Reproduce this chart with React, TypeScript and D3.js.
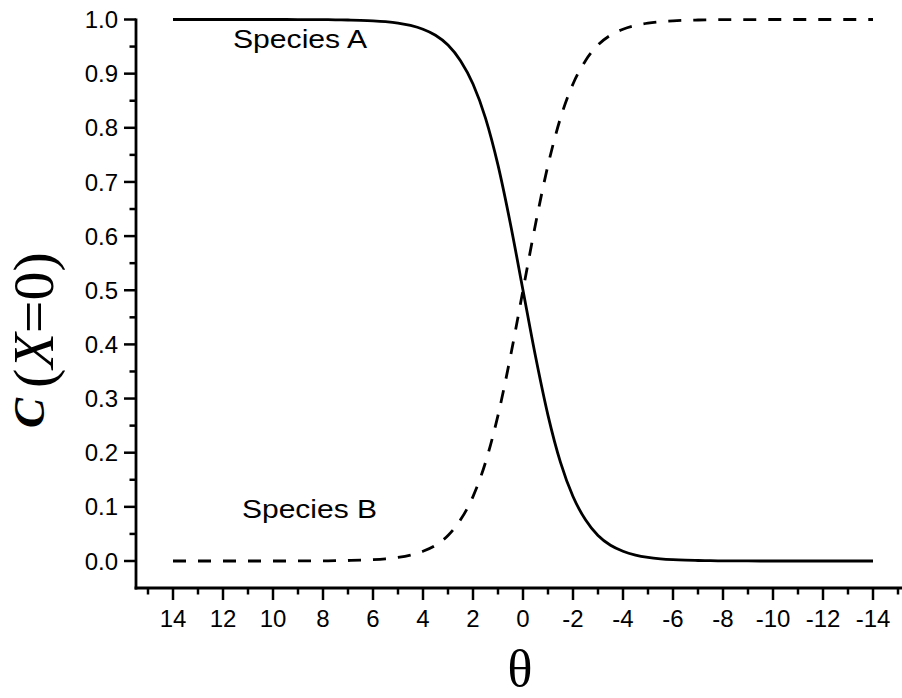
import React from "react";
import * as d3 from "d3";

const thetaValues = [14, 13, 12, 11, 10, 9, 8, 7.5, 7, 6.5, 6, 5.5, 5, 4.5, 4, 3.5, 3, 2.5, 2, 1.5, 1, 0.5, 0, -0.5, -1, -1.5, -2, -2.5, -3, -3.5, -4, -4.5, -5, -5.5, -6, -6.5, -7, -7.5, -8, -9, -10, -11, -12, -13, -14];
const speciesA = [1.0, 1.0, 1.0, 1.0, 1.0, 0.9999, 0.9997, 0.9994, 0.9991, 0.9985, 0.9975, 0.9959, 0.9933, 0.989, 0.982, 0.971, 0.953, 0.924, 0.881, 0.818, 0.731, 0.622, 0.5, 0.378, 0.269, 0.182, 0.119, 0.076, 0.047, 0.029, 0.018, 0.011, 0.0067, 0.0041, 0.0025, 0.0015, 0.0009, 0.0006, 0.0003, 0.0001, 0.0, 0.0, 0.0, 0.0, 0.0];
const speciesB = [0.0, 0.0, 0.0, 0.0, 0.0, 0.0001, 0.0003, 0.0006, 0.0009, 0.0015, 0.0025, 0.0041, 0.0067, 0.011, 0.018, 0.029, 0.047, 0.076, 0.119, 0.182, 0.269, 0.378, 0.5, 0.622, 0.731, 0.818, 0.881, 0.924, 0.953, 0.971, 0.982, 0.989, 0.9933, 0.9959, 0.9975, 0.9985, 0.9991, 0.9994, 0.9997, 0.9999, 1.0, 1.0, 1.0, 1.0, 1.0];
const xMajorTicks = [14, 12, 10, 8, 6, 4, 2, 0, -2, -4, -6, -8, -10, -12, -14];
const xMinorTicks = [15, 13, 11, 9, 7, 5, 3, 1, -1, -3, -5, -7, -9, -11, -13, -15];
const yMajorTicks = [0, 0.1, 0.2, 0.3, 0.4, 0.5, 0.6, 0.7, 0.8, 0.9, 1.0];
const yMinorTicks = [0.05, 0.15, 0.25, 0.35, 0.45, 0.55, 0.65, 0.75, 0.85, 0.95];
const labelA = "Species A";
const labelB = "Species B";

export default function App() {
  const W = 902, H = 698;
  const x = d3.scaleLinear().domain([14, -14]).range([173, 873]);
  const y = d3.scaleLinear().domain([0, 1]).range([561, 19.5]);
  const axisX = 136, axisY = 588;
  const sans = "'Liberation Sans', Arial, sans-serif";
  const serif = "'Liberation Serif', 'Times New Roman', serif";

  const line = d3
    .line<number>()
    .x((_, i) => x(thetaValues[i]))
    .y((d) => y(d))
    .curve(d3.curveMonotoneX);

  return (
    <svg width={W} height={H} style={{ position: "absolute", left: 0, top: 0, background: "#fff" }}>
      <rect width={W} height={H} fill="#fff" />
      {/* axes */}
      <line x1={axisX} x2={axisX} y1={y(1) - 1} y2={axisY + 1.5} stroke="#000" strokeWidth={2.8} />
      <line x1={axisX - 1.4} x2={W} y1={axisY} y2={axisY} stroke="#000" strokeWidth={2.8} />
      {yMajorTicks.map((t) => (
        <g key={"ym" + t}>
          <line x1={axisX - 12} x2={axisX} y1={y(t)} y2={y(t)} stroke="#000" strokeWidth={2.5} />
          <text x={118} y={y(t)} dy="0.36em" textAnchor="end" fontFamily={sans} fontSize={24} fill="#000">
            {t.toFixed(1)}
          </text>
        </g>
      ))}
      {yMinorTicks.map((t) => (
        <line key={"yn" + t} x1={axisX - 6.5} x2={axisX} y1={y(t)} y2={y(t)} stroke="#000" strokeWidth={2.5} />
      ))}
      {xMajorTicks.map((t) => (
        <g key={"xm" + t}>
          <line x1={x(t)} x2={x(t)} y1={axisY} y2={axisY + 12} stroke="#000" strokeWidth={2.5} />
          <text x={x(t)} y={627} textAnchor="middle" fontFamily={sans} fontSize={24} fill="#000">
            {String(t)}
          </text>
        </g>
      ))}
      {xMinorTicks.map((t) => (
        <line key={"xn" + t} x1={x(t)} x2={x(t)} y1={axisY} y2={axisY + 6.5} stroke="#000" strokeWidth={2.5} />
      ))}
      {/* curves */}
      <path d={line(speciesA) || ""} fill="none" stroke="#000" strokeWidth={2.8} />
      <path d={line(speciesB) || ""} fill="none" stroke="#000" strokeWidth={2.8} strokeDasharray="13,12" />
      {/* labels */}
      <text x={233} y={48} fontFamily={sans} fontSize={25} textLength={134} lengthAdjust="spacingAndGlyphs" fill="#000">
        {labelA}
      </text>
      <text x={242} y={518} fontFamily={sans} fontSize={25} textLength={135} lengthAdjust="spacingAndGlyphs" fill="#000">
        {labelB}
      </text>
      <text x={520} y={686} textAnchor="middle" fontFamily={serif} fontSize={52} fill="#000">
        θ
      </text>
      <g transform="translate(53,340) rotate(-90)">
        <text textAnchor="middle" fontFamily={serif} fill="#000">
          <tspan fontSize={45} fontStyle="italic" fontWeight="bold" dy={-9.5}>C</tspan>
          <tspan fontSize={58} dx={10} dy={9.5}>(</tspan>
          <tspan fontSize={58} fontStyle="italic">X</tspan>
          <tspan fontSize={58}>=0)</tspan>
        </text>
      </g>
    </svg>
  );
}
